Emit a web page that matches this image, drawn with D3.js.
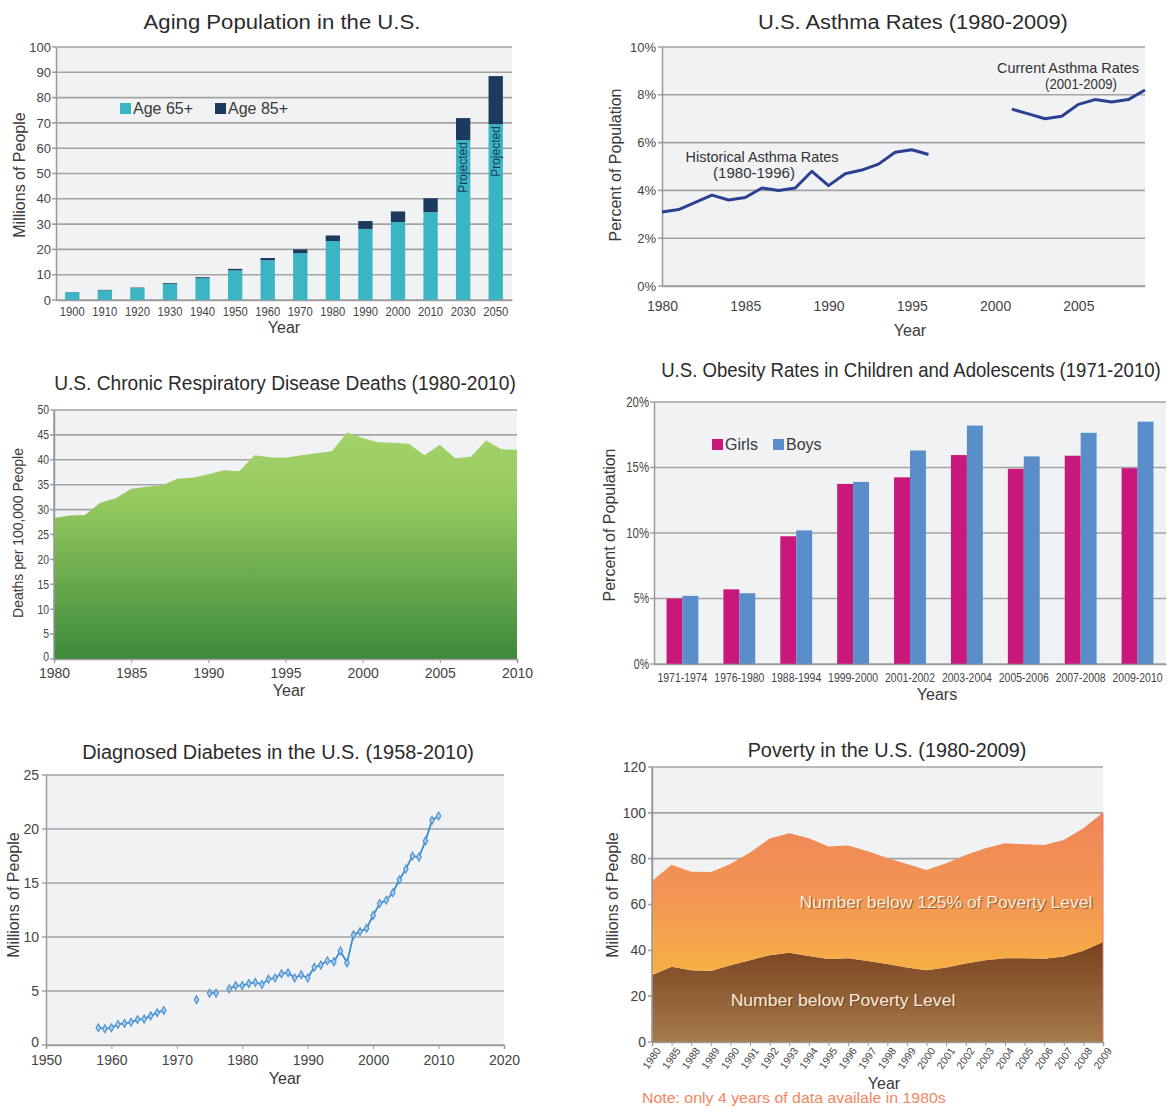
<!DOCTYPE html>
<html>
<head>
<meta charset="utf-8">
<script src="https://cdn.jsdelivr.net/npm/d3@7/dist/d3.min.js"></script>
<style>
  body { margin: 0; background: #fff; }
  svg { display: block; }
  text { font-family: "Liberation Sans", Arial, Helvetica, sans-serif; fill: #3a3a3a; }
</style>
</head>
<body>
<svg id="chart" width="1167" height="1106"></svg>
<script>
// ---------- Aging population (millions) ----------
const agingYears = ["1900","1910","1920","1930","1940","1950","1960","1970","1980","1990","2000","2010","2030","2050"];
const age65to84 = [3.0, 3.8, 4.7, 6.4, 8.6, 11.7, 15.7, 18.5, 23.3, 28.1, 30.8, 34.7, 63.2, 69.5];
const age85plus = [0.1, 0.2, 0.2, 0.3, 0.4, 0.6, 0.9, 1.5, 2.2, 3.1, 4.2, 5.5, 8.7, 19.0];
const projectedYears = ["2030", "2050"];
const agingTicks = [0, 10, 20, 30, 40, 50, 60, 70, 80, 90, 100];

// ---------- Asthma rates (% of population) ----------
const asthmaHistYears = [1980,1981,1982,1983,1984,1985,1986,1987,1988,1989,1990,1991,1992,1993,1994,1995,1996];
const asthmaHist = [3.1, 3.2, 3.5, 3.8, 3.6, 3.7, 4.1, 4.0, 4.1, 4.8, 4.2, 4.7, 4.85, 5.1, 5.6, 5.7, 5.5];
const asthmaCurYears = [2001,2002,2003,2004,2005,2006,2007,2008,2009];
const asthmaCur = [7.4, 7.2, 7.0, 7.1, 7.6, 7.8, 7.7, 7.8, 8.2];
const asthmaYTicks = [0, 2, 4, 6, 8, 10];
const asthmaXTicks = [1980, 1985, 1990, 1995, 2000, 2005];

// ---------- Chronic respiratory disease deaths (per 100,000) ----------
const respYears = [1980,1981,1982,1983,1984,1985,1986,1987,1988,1989,1990,1991,1992,1993,1994,1995,
                   1996,1997,1998,1999,2000,2001,2002,2003,2004,2005,2006,2007,2008,2009,2010];
const respDeaths = [28.3, 28.8, 28.9, 31.4, 32.3, 34.2, 34.6, 34.9, 36.2, 36.4, 37.1, 37.9, 37.7, 40.9, 40.5, 40.4,
                    40.9, 41.3, 41.7, 45.5, 44.4, 43.5, 43.4, 43.2, 40.9, 43.0, 40.3, 40.6, 43.9, 42.1, 42.0];
const respYTicks = [0, 5, 10, 15, 20, 25, 30, 35, 40, 45, 50];
const respXTicks = [1980, 1985, 1990, 1995, 2000, 2005, 2010];

// ---------- Obesity in children and adolescents (%) ----------
const obesityPeriods = ["1971-1974","1976-1980","1988-1994","1999-2000","2001-2002","2003-2004","2005-2006","2007-2008","2009-2010"];
const obesityGirls = [5.0, 5.7, 9.75, 13.75, 14.25, 15.95, 14.9, 15.9, 14.95];
const obesityBoys  = [5.2, 5.4, 10.2, 13.9, 16.3, 18.2, 15.85, 17.65, 18.5];
const obesityYTicks = [0, 5, 10, 15, 20];

// ---------- Diagnosed diabetes (millions); null = no survey that year ----------
const diabYears = [1958,1959,1960,1961,1962,1963,1964,1965,1966,1967,1968,1969,1970,1971,1972,1973,1974,1975,1976,1977,
                   1978,1979,1980,1981,1982,1983,1984,1985,1986,1987,1988,1989,1990,1991,1992,1993,1994,1995,1996,1997,
                   1998,1999,2000,2001,2002,2003,2004,2005,2006,2007,2008,2009,2010];
const diabCases = [1.6, 1.5, 1.6, 1.9, 2.0, 2.1, 2.35, 2.4, 2.7, 3.0, 3.2, null, null, null, null, 4.2, null, 4.8, 4.8, null,
                   5.2, 5.5, 5.5, 5.7, 5.8, 5.6, 6.1, 6.2, 6.6, 6.7, 6.2, 6.5, 6.2, 7.2, 7.4, 7.8, 7.7, 8.7, 7.6, 10.2,
                   10.5, 10.8, 12.0, 13.1, 13.4, 14.1, 15.3, 16.3, 17.5, 17.4, 18.9, 20.8, 21.2];
const diabYTicks = [0, 5, 10, 15, 20, 25];
const diabXTicks = [1950, 1960, 1970, 1980, 1990, 2000, 2010, 2020];

// ---------- Poverty (millions) ----------
const povertyYears = ["1980","1985","1988","1989","1990","1991","1992","1993","1994","1995","1996","1997",
                      "1998","1999","2000","2001","2002","2003","2004","2005","2006","2007","2008","2009"];
const belowPoverty = [29.2, 32.8, 31.3, 31.0, 33.5, 35.7, 37.9, 38.9, 37.5, 36.2, 36.5, 35.3,
                      34.0, 32.5, 31.3, 32.5, 34.3, 35.7, 36.6, 36.6, 36.3, 37.3, 39.8, 43.6];
const below125Extra = [41.1, 44.5, 43.0, 43.2, 44.2, 47.0, 50.9, 52.2, 51.4, 49.1, 49.2, 47.9,
                       46.3, 45.2, 43.8, 45.5, 47.3, 48.8, 50.1, 49.7, 49.7, 50.9, 53.5, 56.5];
const povertyYTicks = [0, 20, 40, 60, 80, 100, 120];

// ================= drawing =================
const svg = d3.select("#chart");
const defs = svg.append("defs");
const PLOT_BG = "#f1f2f4", GRID = "#a3a3a3", AXIS = "#9a9a9a";

// Squeeze (or stretch) a text horizontally to the given width, scaling about its anchor point
function condensed(sel, width) {
  sel.each(function () {
    const el = d3.select(this);
    const natural = this.getComputedTextLength();
    if (!natural) return;
    const sx = width / natural;
    const x = +el.attr("x") || 0, y = +el.attr("y") || 0;
    const prev = el.attr("transform") || "";
    el.attr("transform", `${prev} translate(${x},${y}) scale(${sx},1) translate(${-x},${-y})`.trim());
  });
}

function title(txt, cx, y, width, size) {
  const t = svg.append("text").attr("x", cx).attr("y", y).attr("text-anchor", "middle")
    .attr("font-size", size || 21).style("fill", "#2b2b2b").text(txt);
  if (width) condensed(t, width);
  return t;
}

function axisTitle(txt, x, y, size, rotate, width) {
  const t = svg.append("text").attr("text-anchor", "middle").attr("font-size", size)
    .style("fill", "#3a3a3a").text(txt);
  if (rotate) t.attr("transform", `translate(${x},${y}) rotate(-90)`).attr("dy", "0.35em");
  else t.attr("x", x).attr("y", y).attr("dy", "0.35em");
  if (width) condensed(t, width);
  return t;
}

// Background, horizontal grid and left y axis for a panel
function panelFrame(box, y, ticks, fmt, opts) {
  const g = svg.append("g");
  g.append("rect").attr("x", box.x0).attr("y", box.y0).attr("width", box.x1 - box.x0)
    .attr("height", box.y1 - box.y0).attr("fill", PLOT_BG);
  const grid = g.append("g").attr("class", "grid");
  grid.selectAll("line").data(ticks).join("line")
    .attr("x1", box.x0 - 4).attr("x2", box.x1)
    .attr("y1", d => y(d)).attr("y2", d => y(d))
    .attr("stroke", GRID).attr("stroke-width", 1.6);
  const ax = g.append("g").attr("transform", `translate(${box.x0},0)`)
    .call(d3.axisLeft(y).tickValues(ticks).tickFormat(fmt).tickSize(0).tickPadding(opts.pad || 6));
  ax.select(".domain").attr("stroke", AXIS).attr("stroke-width", 1.5);
  ax.selectAll("text").attr("font-size", opts.size || 14)
    .style("font-family", '"Liberation Sans", Arial, sans-serif').style("fill", "#444");
  if (opts.dy0) ax.selectAll(".tick").filter(d => d === 0).select("text").attr("dy", opts.dy0);
  if (opts.w) ax.selectAll("text").each(function () { condensed(d3.select(this), opts.w(this.textContent)); });
  return g;
}

function bottomAxis(box, x, axis, opts) {
  const ax = svg.append("g").attr("transform", `translate(0,${box.y1})`).call(axis);
  ax.select(".domain").attr("stroke", AXIS).attr("stroke-width", 1.5);
  ax.selectAll(".tick line").attr("stroke", AXIS);
  ax.selectAll("text").attr("font-size", opts.size || 14)
    .style("font-family", '"Liberation Sans", Arial, sans-serif').style("fill", "#444");
  if (opts.w) ax.selectAll("text").each(function () { condensed(d3.select(this), opts.w); });
  return ax;
}

// ---------------- Panel 1: Aging population ----------------
(function () {
  const box = { x0: 56, x1: 512, y0: 47, y1: 300 };
  const y = d3.scaleLinear().domain([0, 100]).range([box.y1, box.y0]);
  const x = d3.scaleBand().domain(agingYears).range([box.x0, box.x1]).paddingInner(0.56).paddingOuter(0.28);
  title("Aging Population in the U.S.", 282, 29, 277, 21);
  panelFrame(box, y, agingTicks, d => d, { size: 13, pad: 5 });
  const rows = agingYears.map((yr, i) => ({ yr, a: age65to84[i], b: age85plus[i] }));
  const g = svg.append("g");
  g.selectAll("rect.a").data(rows).join("rect").attr("class", "a")
    .attr("x", d => x(d.yr)).attr("width", x.bandwidth())
    .attr("y", d => y(d.a)).attr("height", d => y(0) - y(d.a)).attr("fill", "#39b5c4");
  g.selectAll("rect.b").data(rows).join("rect").attr("class", "b")
    .attr("x", d => x(d.yr)).attr("width", x.bandwidth())
    .attr("y", d => y(d.a + d.b)).attr("height", d => y(d.a) - y(d.a + d.b)).attr("fill", "#1c3a5e");
  g.selectAll("text.proj").data(rows.filter(d => projectedYears.includes(d.yr))).join("text")
    .attr("class", "proj").attr("text-anchor", "end").attr("font-size", 12)
    .style("fill", "#1c3a5e")
    .attr("transform", d => `translate(${x(d.yr) + x.bandwidth() / 2},${y(d.a) + 2}) rotate(-90)`)
    .attr("dy", "0.35em").text("Projected");
  const band = d3.scaleBand().domain(agingYears).range([box.x0, box.x1]);
  bottomAxis(box, x, d3.axisBottom(band).tickSize(0).tickPadding(7), { size: 13, w: 25 });
  // legend
  const lg = svg.append("g");
  lg.append("rect").attr("x", 120).attr("y", 103).attr("width", 11).attr("height", 11).attr("fill", "#39b5c4");
  lg.append("text").attr("x", 133).attr("y", 114).attr("font-size", 16).text("Age 65+");
  lg.append("rect").attr("x", 215).attr("y", 103).attr("width", 11).attr("height", 11).attr("fill", "#1c3a5e");
  lg.append("text").attr("x", 228).attr("y", 114).attr("font-size", 16).text("Age 85+");
  axisTitle("Millions of People", 19, 175, 16, true);
  axisTitle("Year", 284, 327, 16, false);
})();

// ---------------- Panel 2: Asthma ----------------
(function () {
  const box = { x0: 662, x1: 1145, y0: 47, y1: 286 };
  const y = d3.scaleLinear().domain([0, 10]).range([box.y1, box.y0]);
  const x = d3.scaleLinear().domain([1980, 2009]).range([box.x0, box.x1]);
  title("U.S. Asthma Rates (1980-2009)", 913, 29, 310, 21);
  panelFrame(box, y, asthmaYTicks, d => d + "%", { size: 13, pad: 6 });
  bottomAxis(box, x, d3.axisBottom(x).tickValues(asthmaXTicks).tickFormat(d3.format("d")).tickSize(0).tickPadding(15), { size: 14 });
  const line = d3.line().x(d => x(d[0])).y(d => y(d[1]));
  const hist = asthmaHistYears.map((yr, i) => [yr, asthmaHist[i]]);
  const cur = asthmaCurYears.map((yr, i) => [yr, asthmaCur[i]]);
  [hist, cur].forEach(s => svg.append("path").datum(s).attr("d", line)
    .attr("fill", "none").attr("stroke", "#2d3f91").attr("stroke-width", 3).attr("stroke-linejoin", "round"));
  const note = (t, cx, yy, w) => condensed(svg.append("text").attr("x", cx).attr("y", yy)
    .attr("text-anchor", "middle").attr("font-size", 14).style("fill", "#333").text(t), w);
  note("Historical Asthma Rates", 762, 162, 153);
  note("(1980-1996)", 754, 178, 82);
  note("Current Asthma Rates", 1068, 73, 142);
  note("(2001-2009)", 1081, 89, 72);
  axisTitle("Percent of Population", 615, 165, 16, true);
  axisTitle("Year", 910, 330, 16, false);
})();

// ---------------- Panel 3: Chronic respiratory deaths ----------------
(function () {
  const box = { x0: 54, x1: 517, y0: 410, y1: 659 };
  const y = d3.scaleLinear().domain([0, 50]).range([box.y1, box.y0]);
  const x = d3.scaleLinear().domain([1980, 2010]).range([box.x0, box.x1]);
  title("U.S. Chronic Respiratory Disease Deaths (1980-2010)", 285, 390, 462, 21);
  panelFrame(box, y, respYTicks, d => d, { size: 12, pad: 5, dy0: "0.1em", w: t => t.length * 5.8 });
  const grad = defs.append("linearGradient").attr("id", "gGreen").attr("gradientUnits", "userSpaceOnUse")
    .attr("x1", 0).attr("x2", 0).attr("y1", y(46)).attr("y2", y(0));
  grad.append("stop").attr("offset", 0).attr("stop-color", "#a3d36b");
  grad.append("stop").attr("offset", 0.3).attr("stop-color", "#97ca60");
  grad.append("stop").attr("offset", 1).attr("stop-color", "#3d8a3b");
  const area = d3.area().x(d => x(d[0])).y0(y(0)).y1(d => y(d[1]));
  svg.append("path").datum(respYears.map((yr, i) => [yr, respDeaths[i]])).attr("d", area).attr("fill", "url(#gGreen)");
  svg.append("line").attr("x1", box.x0).attr("x2", box.x0).attr("y1", box.y0).attr("y2", box.y1)
    .attr("stroke", AXIS).attr("stroke-width", 1.5);
  bottomAxis(box, x, d3.axisBottom(x).tickValues(respXTicks).tickFormat(d3.format("d")).tickSize(4).tickPadding(5), { size: 14 });
  axisTitle("Deaths per 100,000 People", 18, 533, 14, true, 170);
  axisTitle("Year", 289, 690, 16, false);
})();

// ---------------- Panel 4: Obesity ----------------
(function () {
  const box = { x0: 654, x1: 1166, y0: 402, y1: 664 };
  const y = d3.scaleLinear().domain([0, 20]).range([box.y1, box.y0]);
  const x = d3.scaleBand().domain(obesityPeriods).range([box.x0, box.x1]).paddingInner(0.44).paddingOuter(0.22);
  const xs = d3.scaleBand().domain(["girls", "boys"]).range([0, x.bandwidth()]);
  title("U.S. Obesity Rates in Children and Adolescents (1971-2010)", 911, 377, 500, 21);
  panelFrame(box, y, obesityYTicks, d => d + "%", { size: 14, pad: 5, w: t => t.length * 7.6 });
  const rows = obesityPeriods.map((p, i) => ({ p, girls: obesityGirls[i], boys: obesityBoys[i] }));
  const colors = { girls: "#c8187b", boys: "#5a8ecb" };
  const g = svg.append("g");
  ["girls", "boys"].forEach(k => {
    g.selectAll("rect." + k).data(rows).join("rect").attr("class", k)
      .attr("x", d => x(d.p) + xs(k)).attr("width", xs.bandwidth())
      .attr("y", d => y(d[k])).attr("height", d => y(0) - y(d[k])).attr("fill", colors[k]);
  });
  const band = d3.scaleBand().domain(obesityPeriods).range([box.x0, box.x1]);
  bottomAxis(box, band, d3.axisBottom(band).tickSize(0).tickPadding(9), { size: 12, w: 50 });
  const lg = svg.append("g");
  lg.append("rect").attr("x", 712).attr("y", 439).attr("width", 11).attr("height", 11).attr("fill", colors.girls);
  lg.append("text").attr("x", 725).attr("y", 450).attr("font-size", 16).text("Girls");
  lg.append("rect").attr("x", 773).attr("y", 439).attr("width", 11).attr("height", 11).attr("fill", colors.boys);
  lg.append("text").attr("x", 786).attr("y", 450).attr("font-size", 16).text("Boys");
  axisTitle("Percent of Population", 609, 525, 16, true);
  axisTitle("Years", 937, 694, 16, false);
})();

// ---------------- Panel 5: Diabetes ----------------
(function () {
  const box = { x0: 46, x1: 504, y0: 775, y1: 1045 };
  const y = d3.scaleLinear().domain([0, 25]).range([box.y1, box.y0]);
  const x = d3.scaleLinear().domain([1950, 2020]).range([box.x0, box.x1]);
  title("Diagnosed Diabetes in the U.S. (1958-2010)", 278, 759, 392, 21);
  panelFrame(box, y, diabYTicks, d => d, { size: 14, pad: 7, dy0: "0.1em" });
  bottomAxis(box, x, d3.axisBottom(x).tickValues(diabXTicks).tickFormat(d3.format("d")).tickSize(4).tickPadding(6), { size: 14 });
  const pts = diabYears.map((yr, i) => [yr, diabCases[i]]);
  const line = d3.line().defined(d => d[1] != null).x(d => x(d[0])).y(d => y(d[1]));
  svg.append("path").datum(pts).attr("d", line).attr("fill", "none")
    .attr("stroke", "#3b8fcc").attr("stroke-width", 1.8).attr("stroke-linejoin", "round");
  const sym = d3.symbol().type(d3.symbolDiamond).size(18);
  svg.append("g").selectAll("path").data(pts.filter(d => d[1] != null)).join("path")
    .attr("transform", d => `translate(${x(d[0])},${y(d[1])})`).attr("d", sym)
    .attr("fill", "#a9cdee").attr("stroke", "#4a90d0").attr("stroke-width", 1.1);
  axisTitle("Millions of People", 13, 895, 16, true);
  axisTitle("Year", 285, 1078, 16, false);
})();

// ---------------- Panel 6: Poverty ----------------
(function () {
  const box = { x0: 652, x1: 1103, y0: 767, y1: 1042 };
  const y = d3.scaleLinear().domain([0, 120]).range([box.y1, box.y0]);
  const x = d3.scalePoint().domain(povertyYears).range([box.x0, box.x1]);
  title("Poverty in the U.S. (1980-2009)", 887, 757, 279, 21);
  panelFrame(box, y, povertyYTicks, d => d, { size: 14, pad: 6 });
  const rows = povertyYears.map((yr, i) => ({ yr, below: belowPoverty[i], extra: below125Extra[i] }));
  const series = d3.stack().keys(["below", "extra"])(rows);
  const gBrown = defs.append("linearGradient").attr("id", "gBrown").attr("gradientUnits", "userSpaceOnUse")
    .attr("x1", 0).attr("x2", 0).attr("y1", y(42)).attr("y2", y(0));
  gBrown.append("stop").attr("offset", 0).attr("stop-color", "#7a431f");
  gBrown.append("stop").attr("offset", 1).attr("stop-color", "#a67b4b");
  const gOrange = defs.append("linearGradient").attr("id", "gOrange").attr("gradientUnits", "userSpaceOnUse")
    .attr("x1", 0).attr("x2", 0).attr("y1", y(100)).attr("y2", y(30));
  gOrange.append("stop").attr("offset", 0).attr("stop-color", "#ef8557");
  gOrange.append("stop").attr("offset", 0.55).attr("stop-color", "#f39754");
  gOrange.append("stop").attr("offset", 1).attr("stop-color", "#f8b044");
  const area = d3.area().x(d => x(d.data.yr)).y0(d => y(d[0])).y1(d => y(d[1]));
  svg.append("g").selectAll("path").data(series).join("path")
    .attr("d", area).attr("fill", d => d.key === "below" ? "url(#gBrown)" : "url(#gOrange)");
  svg.append("line").attr("x1", box.x1).attr("x2", box.x1).attr("y1", y(100)).attr("y2", box.y1)
    .attr("stroke", "#e57a7a").attr("stroke-width", 1);
  svg.append("line").attr("x1", box.x0).attr("x2", box.x0).attr("y1", box.y0).attr("y2", box.y1)
    .attr("stroke", AXIS).attr("stroke-width", 1.5);
  const ax = bottomAxis(box, x, d3.axisBottom(x).tickSize(4).tickPadding(2), { size: 10.5 });
  ax.selectAll("text").attr("text-anchor", "end").attr("dx", "-0.2em").attr("dy", "0.6em")
    .attr("transform", "rotate(-55)");
  const shadowText = (t, cx, yy, w) => {
    condensed(svg.append("text").attr("x", cx + 1.2).attr("y", yy + 1.2).attr("text-anchor", "middle").attr("font-size", 16)
      .style("fill", "#5a3218").style("opacity", 0.55).text(t), w);
    condensed(svg.append("text").attr("x", cx).attr("y", yy).attr("text-anchor", "middle").attr("font-size", 16)
      .style("fill", "#fbe9d8").text(t), w);
  };
  shadowText("Number below 125% of Poverty Level", 946, 908, 293);
  shadowText("Number below Poverty Level", 843, 1006, 225);
  axisTitle("Millions of People", 612, 895, 16, true);
  axisTitle("Year", 884, 1083, 16, false);
  condensed(svg.append("text").attr("x", 642).attr("y", 1103).attr("font-size", 14).style("fill", "#f4845f")
    .text("Note: only 4 years of data availale in 1980s"), 304);
})();
</script>
</body>
</html>
